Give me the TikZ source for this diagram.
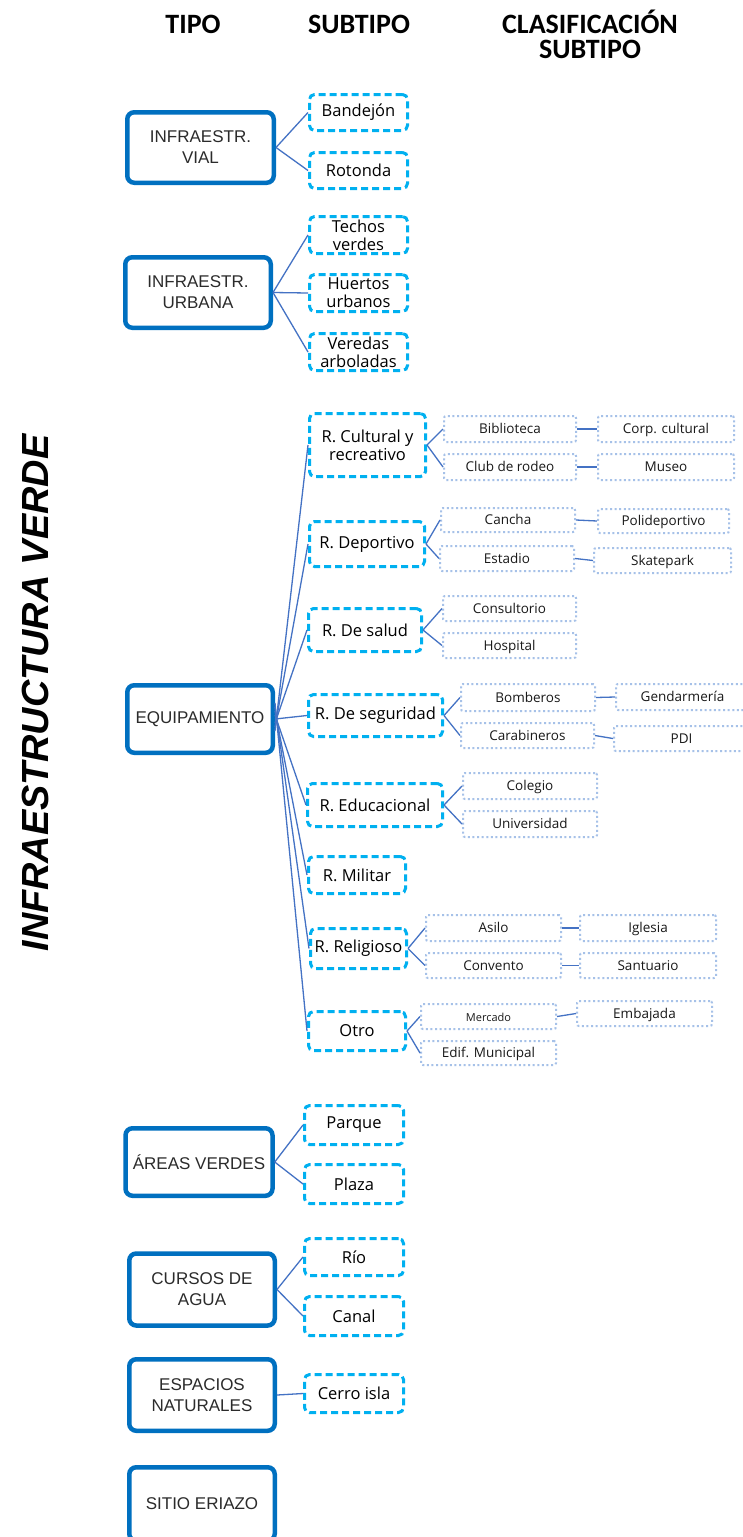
\documentclass[tikz,border=0pt]{standalone}
\usepackage{fontspec}
\setmainfont{Liberation Sans}
\newfontfamily\osans{Open Sans}
\newfontfamily\carl{Carlito}
\definecolor{typblue}{HTML}{0070C0}
\definecolor{subcyan}{HTML}{00B0F0}
\definecolor{clsblue}{HTML}{A6C1E8}
\definecolor{conblue}{HTML}{4472C4}
\definecolor{txtgray}{HTML}{2B2B2B}
\tikzset{
  typ/.style={draw=typblue, line width=4.5pt, rounded corners=7pt, fill=white, align=center,
    font=\fontsize{17}{21}\selectfont, text=txtgray, inner sep=0pt},
  sub/.style={draw=subcyan, line width=3pt, dash pattern=on 7pt off 4pt, rounded corners=5pt,
    align=center, font=\osans\fontsize{16.5}{18}\selectfont, text=black, inner sep=0pt},
  cls/.style={draw=clsblue, line width=2pt, dash pattern=on 2pt off 2.6pt, rounded corners=2pt,
    font=\osans\fontsize{13.5}{15}\selectfont, text=black!90, inner sep=0pt,
    text height=11pt, text depth=2pt},
  con/.style={draw=conblue, line width=1.3pt},
  hdr/.style={font=\carl\bfseries\fontsize{28}{25}\selectfont, align=center, inner sep=0pt},
}
\newcommand\bx[7]{\node[#1, minimum width=#5pt, minimum height=#6pt] (#2) at (#3,#4) {#7};}
\begin{document}
\begin{tikzpicture}[x=1pt,y=-1pt]
\useasboundingbox (0,0) rectangle (743,1537);
\fill[white] (0,0) rectangle (743,1537);
% headers
\node[hdr] (h1) at (193,24) {TIPO};
\node[hdr] (h2) at (359,24) {SUBTIPO};
\node[hdr] (h3) at (590,34) {CLASIFICACIÓN\\SUBTIPO};
% vertical title
\node[font=\bfseries\itshape\fontsize{37.8}{40}\selectfont, rotate=90, inner sep=0pt] (title) at (35,693) {INFRAESTRUCTURA VERDE};
% type boxes
\bx{typ}{vial}{200.5}{147.5}{146.5}{70.5}{INFRAESTR.\\VIAL}
\bx{typ}{urb}{198}{292.5}{145.5}{70.5}{INFRAESTR.\\URBANA}
\bx{typ}{equip}{200}{719}{145.5}{67.5}{EQUIPAMIENTO}
\bx{typ}{areas}{199}{1162}{147}{67.5}{ÁREAS VERDES}
\bx{typ}{cursos}{202}{1289.5}{145.5}{72}{CURSOS DE\\AGUA}
\bx{typ}{espacios}{202}{1395}{145.5}{71.5}{ESPACIOS\\NATURALES}
\bx{typ}{sitio}{202}{1504}{145.5}{73.5}{SITIO ERIAZO}
% subtypes
\bx{sub}{band}{358.5}{112.5}{98}{36}{Bandejón}
\bx{sub}{roto}{358.5}{170.5}{98}{36}{Rotonda}
\bx{sub}{techos}{358.5}{235}{98}{37}{Techos\\verdes}
\bx{sub}{huertos}{358.5}{293}{98}{37}{Huertos\\urbanos}
\bx{sub}{veredas}{358.5}{352}{98}{37}{Veredas\\arboladas}
\bx{sub}{cult}{367.5}{445}{116}{63}{R. Cultural y\\recreativo}
\bx{sub}{dep}{367}{544}{115}{45}{R. Deportivo}
\bx{sub}{sal}{365}{630}{113}{43}{R. De salud}
\bx{sub}{seg}{375.5}{715.5}{134}{42}{R. De seguridad}
\bx{sub}{edu}{375}{805}{135}{43}{R. Educacional}
\bx{sub}{mil}{357}{875}{97}{37}{R. Militar}
\bx{sub}{rel}{358.5}{948.5}{96}{40}{R. Religioso}
\bx{sub}{otro}{357}{1031}{97}{39}{Otro}
\bx{sub}{parque}{354}{1125}{99}{39}{Parque}
\bx{sub}{plaza}{354}{1184}{99}{39}{Plaza}
\bx{sub}{rio}{354}{1257}{99}{37}{Río}
\bx{sub}{canal}{354}{1316}{99}{39}{Canal}
\bx{sub}{cerro}{354}{1393.5}{99}{38}{Cerro isla}
% classification
\bx{cls}{bib}{510}{429}{132}{26}{Biblioteca}
\bx{cls}{corp}{666}{429}{136}{26}{Corp. cultural}
\bx{cls}{club}{510}{467}{132}{26}{Club de rodeo}
\bx{cls}{museo}{666}{467}{136}{26}{Museo}
\bx{cls}{cancha}{508}{520}{134}{24}{Cancha}
\bx{cls}{poli}{663.5}{521}{131}{24}{Polideportivo}
\bx{cls}{estadio}{507}{558.5}{134}{25}{Estadio}
\bx{cls}{skate}{662.5}{560.5}{137}{25}{Skatepark}
\bx{cls}{consul}{509.5}{608.5}{133}{25}{Consultorio}
\bx{cls}{hosp}{509.5}{645.5}{133}{25}{Hospital}
\bx{cls}{bomb}{528}{697.5}{134}{27}{Bomberos}
\bx{cls}{gend}{682.5}{697}{133}{26}{Gendarmería}
\bx{cls}{carab}{527.5}{735.5}{133}{25}{Carabineros}
\bx{cls}{pdi}{681.5}{738.5}{135}{25}{PDI}
\bx{cls}{coleg}{530}{786}{134}{26}{Colegio}
\bx{cls}{univ}{530}{824}{134}{26}{Universidad}
\bx{cls}{asilo}{493.5}{928}{135}{26}{Asilo}
\bx{cls}{igle}{648}{928}{136}{26}{Iglesia}
\bx{cls}{conv}{493.5}{965.5}{135}{25}{Convento}
\bx{cls}{sant}{648}{965.5}{136}{25}{Santuario}
\bx{cls}{merc}{488.5}{1016.5}{135}{25}{\fontsize{11}{12}\selectfont Mercado}
\bx{cls}{emb}{644.5}{1013.5}{135}{25}{Embajada}
\bx{cls}{edif}{488.5}{1053}{135}{24}{Edif. Municipal}
% connectors type -> subtype
\draw[con] (vial.east) -- (band.west);
\draw[con] (vial.east) -- (roto.west);
\draw[con] (urb.east) -- (techos.west);
\draw[con] (urb.east) -- (huertos.west);
\draw[con] (urb.east) -- (veredas.west);
\draw[con] ([yshift=-12pt]equip.east) -- (cult.west);
\draw[con] ([yshift=-8pt]equip.east) -- (dep.west);
\draw[con] ([yshift=-4pt]equip.east) -- (sal.west);
\draw[con] (equip.east) -- (seg.west);
\draw[con] ([yshift=4pt]equip.east) -- (edu.west);
\draw[con] ([yshift=8pt]equip.east) -- (mil.west);
\draw[con] ([yshift=12pt]equip.east) -- (rel.west);
\draw[con] ([yshift=16pt]equip.east) -- (otro.west);
\draw[con] (areas.east) -- (parque.west);
\draw[con] (areas.east) -- (plaza.west);
\draw[con] (cursos.east) -- (rio.west);
\draw[con] (cursos.east) -- (canal.west);
\draw[con] (espacios.east) -- (cerro.west);
% subtype -> classification
\draw[con] (cult.east) -- (bib.west);
\draw[con] (cult.east) -- (club.west);
\draw[con] (dep.east) -- (cancha.west);
\draw[con] (dep.east) -- (estadio.west);
\draw[con] (sal.east) -- (consul.west);
\draw[con] (sal.east) -- (hosp.west);
\draw[con] (seg.east) -- (bomb.west);
\draw[con] (seg.east) -- (carab.west);
\draw[con] (edu.east) -- (coleg.west);
\draw[con] (edu.east) -- (univ.west);
\draw[con] (rel.east) -- (asilo.west);
\draw[con] (rel.east) -- (conv.west);
\draw[con] (otro.east) -- (merc.west);
\draw[con] (otro.east) -- (edif.west);
% classification pairs
\draw[con] (bib.east) -- (corp.west);
\draw[con] (club.east) -- (museo.west);
\draw[con] (cancha.east) -- (poli.west);
\draw[con] (estadio.east) -- (skate.west);
\draw[con] (bomb.east) -- (gend.west);
\draw[con] (carab.east) -- (pdi.west);
\draw[con] (asilo.east) -- (igle.west);
\draw[con] (conv.east) -- (sant.west);
\draw[con] (merc.east) -- (emb.west);
\end{tikzpicture}
\end{document}
